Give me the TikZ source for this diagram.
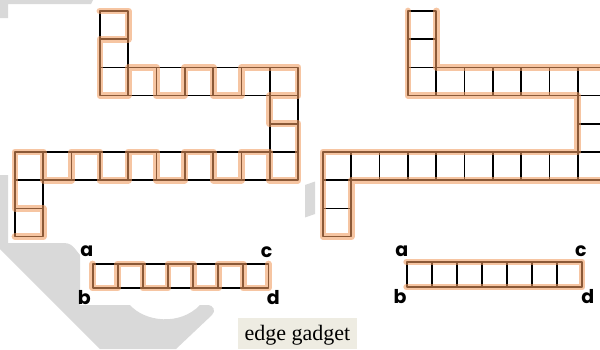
\documentclass[tikz,border=0pt]{standalone}
\usepackage{fontspec}
\setmainfont{Liberation Serif}
\newfontfamily\lblfont{Poppins}
\definecolor{bgray}{RGB}{217,217,217}
\definecolor{peach}{RGB}{240,155,95}
\definecolor{tagbg}{RGB}{238,236,226}
\begin{document}
\begin{tikzpicture}[x=1pt,y=-1pt,
  grid/.style={line width=1.7pt, black, line cap=round, line join=round},
  hl/.style={line width=6.8pt, peach, opacity=0.58, line cap=round, line join=round},
  lbl/.style={font=\lblfont\bfseries\fontsize{19}{19}\selectfont, inner sep=0pt, anchor=base},
  shade/.style={fill=bgray, draw=none}]
\useasboundingbox (0,0) rectangle (600,349);
\clip (0,0) rectangle (600,349);
% background decoration
\fill[shade] (0,0) -- (93,0) -- (91,4) -- (8,4) -- (8,18) -- (0,18) -- cycle;
\fill[shade] (0,175) -- (8,175) -- (8,243) -- (64,243)
  .. controls (70,243) and (73,246) .. (76,250) -- (80,255) -- (80,305) -- (130,305)
  .. controls (145,322) and (180,326) .. (200,305) -- (207,305)
  .. controls (214,305) and (216,311) .. (212,315) -- (176,349) -- (100,349) -- (0,249) -- cycle;
\fill[shade] (305,185) -- (315,181.5) -- (315,214) -- (305,217.5) -- cycle;
% left polyomino
\begin{scope}[shift={(15,11)}, x=28.3pt, y=-28.2pt]
  \foreach \c/\r in {3/0,3/1,3/2,4/2,5/2,6/2,7/2,8/2,9/2,9/3,9/4,9/5,8/5,7/5,6/5,5/5,4/5,3/5,2/5,1/5,0/5,0/6,0/7}
    \draw[grid] (\c,\r) rectangle ++(1,1);
  \draw[hl] (3,0) -- (4,0) -- (4,1) -- (3,1) -- (3,3) -- (4,3) -- (4,2) -- (5,2) -- (5,3) -- (6,3) -- (6,2)
    -- (7,2) -- (7,3) -- (8,3) -- (8,2) -- (10,2) -- (10,3) -- (9,3) -- (9,4) -- (10,4) -- (10,6) -- (9,6)
    -- (9,5) -- (8,5) -- (8,6) -- (7,6) -- (7,5) -- (6,5) -- (6,6) -- (5,6) -- (5,5) -- (4,5) -- (4,6)
    -- (3,6) -- (3,5) -- (2,5) -- (2,6) -- (1,6) -- (1,5) -- (0,5) -- (0,7) -- (1,7) -- (1,8) -- (0,8);
\end{scope}
% right polyomino
\begin{scope}[shift={(323,11)}, x=28.3pt, y=-28.2pt]
  \foreach \c/\r in {3/0,3/1,3/2,4/2,5/2,6/2,7/2,8/2,9/2,9/3,9/4,9/5,8/5,7/5,6/5,5/5,4/5,3/5,2/5,1/5,0/5,0/6,0/7}
    \draw[grid] (\c,\r) rectangle ++(1,1);
  \draw[hl] (4,0) -- (4,2) -- (10,2) -- (10,6) -- (1,6) -- (1,8) -- (0,8) -- (0,5) -- (9,5) -- (9,3) -- (3,3) -- (3,0);
\end{scope}
% left edge gadget
\begin{scope}[shift={(92.7,264)}, x=25.1pt, y=-24pt]
  \foreach \c in {0,...,6} \draw[grid] (\c,0) rectangle ++(1,1);
  \draw[hl] (0,0) -- (0,1) -- (1,1) -- (1,0) -- (2,0) -- (2,1) -- (3,1) -- (3,0) -- (4,0) -- (4,1)
    -- (5,1) -- (5,0) -- (6,0) -- (6,1) -- (7,1) -- (7,0);
\end{scope}
% right edge gadget
\begin{scope}[shift={(406.7,262)}, x=25.05pt, y=-25pt]
  \foreach \c in {0,...,6} \draw[grid] (\c,0) rectangle ++(1,1);
  \draw[hl] (0,0) -- (7,0) -- (7,1) -- (0,1);
\end{scope}
% labels
\node[lbl] (la) at (86.7,256.7) {a};
\node[lbl] (lb) at (84.3,304) {b};
\node[lbl] (lc) at (266.7,257) {c};
\node[lbl] (ld) at (273.3,304) {d};
\node[lbl] (ra) at (401.7,256.7) {a};
\node[lbl] (rb) at (400,303.3) {b};
\node[lbl] (rc) at (580.8,256.7) {c};
\node[lbl] (rd) at (587.7,303.3) {d};
% caption
\node[fill=tagbg, minimum width=119pt, minimum height=31pt, inner sep=0pt] (capbox) at (297.5,333.5) {};
\node[anchor=base, inner sep=0pt, font=\fontsize{22}{22}\selectfont] (cap) at (297.5,340.5) {edge gadget};
\end{tikzpicture}
\end{document}
